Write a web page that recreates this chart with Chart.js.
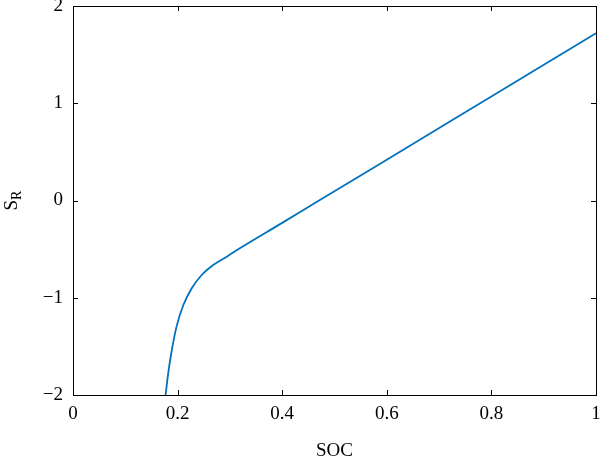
<!DOCTYPE html>
<html>
<head>
<meta charset="utf-8">
<script src="https://cdn.jsdelivr.net/npm/chart.js@4"></script>
<style>
html,body{margin:0;padding:0;background:#fff;}
#wrap{width:600px;height:456px;}
</style>
</head>
<body>
<div id="wrap"><canvas id="c" width="600" height="456"></canvas></div>
<script>
// Data
const socValues = [0.177, 0.182, 0.189, 0.198, 0.211, 0.227, 0.246, 0.268, 0.294, 0.319, 0.400, 0.472, 0.600, 0.800, 1.000];
const srValues  = [-2.00, -1.777, -1.537, -1.297, -1.075, -0.903, -0.766, -0.663, -0.578, -0.491, -0.23, 0.005, 0.42, 1.07, 1.72];
const xTicks = [0, 0.2, 0.4, 0.6, 0.8, 1];
const yTicks = [-2, -1, 0, 1, 2];
const xTitle = "SOC";
const yTitleMain = "S";
const yTitleSub = "R";

const points = socValues.map((x, i) => ({x: x, y: srValues[i]}));
const FONT = "'Liberation Serif', 'DejaVu Serif', serif";

function zeroPad(s) { s.paddingTop = 0; s.paddingBottom = 0; s.paddingLeft = 0; s.paddingRight = 0; }

const boxPlugin = {
  id: 'box',
  afterDraw(chart) {
    const ctx = chart.ctx;
    const a = chart.chartArea;
    const xs = chart.scales.x, ys = chart.scales.y;
    ctx.save();
    ctx.strokeStyle = '#000';
    ctx.lineWidth = 1;
    ctx.strokeRect(Math.round(a.left) + 0.5, Math.round(a.top) + 0.5, Math.round(a.right - a.left), Math.round(a.bottom - a.top));
    const tl = 5;
    ctx.beginPath();
    xTicks.forEach(v => {
      const px = Math.round(xs.getPixelForValue(v)) + 0.5;
      if (v !== xs.min && v !== xs.max) {
        ctx.moveTo(px, a.bottom); ctx.lineTo(px, a.bottom - tl);
        ctx.moveTo(px, a.top); ctx.lineTo(px, a.top + tl);
      }
    });
    yTicks.forEach(v => {
      const py = Math.round(ys.getPixelForValue(v)) + 0.5;
      if (v !== ys.min && v !== ys.max) {
        ctx.moveTo(a.left, py); ctx.lineTo(a.left + tl, py);
        ctx.moveTo(a.right, py); ctx.lineTo(a.right - tl, py);
      }
    });
    ctx.stroke();
    // y-axis title with subscript
    const cy = (a.top + a.bottom) / 2;
    ctx.translate(17, cy);
    ctx.rotate(-Math.PI / 2);
    ctx.fillStyle = '#000';
    ctx.textBaseline = 'alphabetic';
    ctx.font = "19px " + FONT;
    const wS = ctx.measureText(yTitleMain).width;
    ctx.font = "14px " + FONT;
    const wR = ctx.measureText(yTitleSub).width;
    const total = wS + wR;
    ctx.font = "19px " + FONT;
    ctx.fillText(yTitleMain, -total / 2, 0);
    ctx.font = "14px " + FONT;
    ctx.fillText(yTitleSub, -total / 2 + wS, 4);
    ctx.restore();
  }
};

new Chart(document.getElementById('c'), {
  type: 'line',
  data: {
    datasets: [{
      data: points,
      borderColor: '#0072BD',
      borderWidth: 1.8,
      pointRadius: 0,
      cubicInterpolationMode: 'monotone',
      fill: false
    }]
  },
  options: {
    responsive: false,
    animation: false,
    devicePixelRatio: 1,
    layout: {autoPadding: false, padding: {top: 6, right: 4, left: 0, bottom: 0}},
    plugins: {legend: {display: false}, tooltip: {enabled: false}},
    scales: {
      x: {
        type: 'linear', min: 0, max: 1,
        afterBuildTicks: s => { s.ticks = xTicks.map(v => ({value: v})); },
        afterFit: s => { s.height = 61; zeroPad(s); },
        grid: {display: false, drawTicks: false},
        border: {display: false},
        ticks: {color: '#000', font: {family: FONT, size: 19}, padding: 8, maxRotation: 0,
          callback: v => String(v)},
        title: {display: true, text: xTitle, color: '#000', font: {family: FONT, size: 19}, padding: {top: 10, bottom: -6}}
      },
      y: {
        type: 'linear', min: -2, max: 2,
        afterBuildTicks: s => { s.ticks = yTicks.map(v => ({value: v})); },
        afterFit: s => { s.width = 73; zeroPad(s); },
        grid: {display: false, drawTicks: false},
        border: {display: false},
        ticks: {color: '#000', font: {family: FONT, size: 19}, padding: 10,
          callback: v => String(v).replace('-', '\u2212')}
      }
    }
  },
  plugins: [boxPlugin]
});
</script>
</body>
</html>
